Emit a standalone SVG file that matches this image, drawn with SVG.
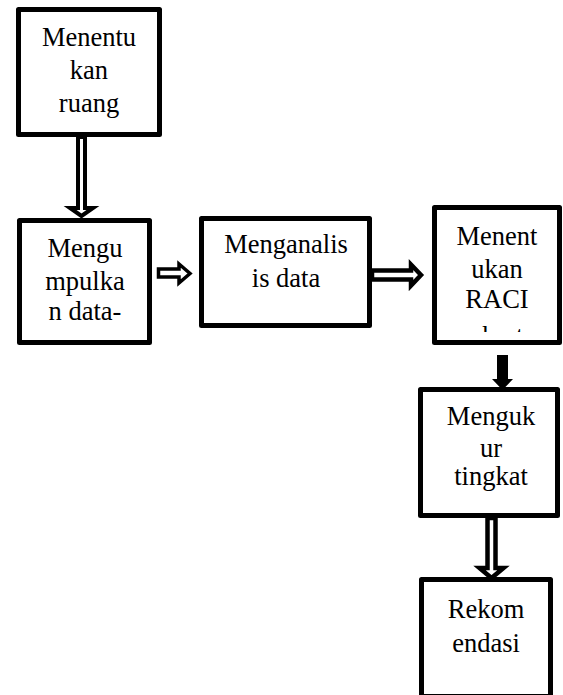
<svg xmlns="http://www.w3.org/2000/svg" width="563" height="695" viewBox="0 0 563 695">
<style>
.box{fill:#fff;stroke:#000;stroke-width:5;stroke-linejoin:round}
.lbl{font-family:"Liberation Serif","Times New Roman",serif;font-size:26.5px;fill:#000;text-anchor:middle}
.dbl{fill:#fff;stroke:#000;stroke-width:4;stroke-linejoin:miter}
.solid{fill:#000;stroke:none}
</style>
<defs>
<clipPath id="clip4"><rect x="437" y="210" width="120" height="122"/></clipPath>
</defs>
<rect width="563" height="695" fill="#fff"/>
<g id="connectors">
<polygon class="dbl" points="78,137 78,208 70,208 81.5,216 93,208 85,208 85,137"/>
<polygon class="dbl" style="stroke-width:3.5" points="158.5,269 179,269 179,264 190,273.5 179,283 179,277 158.5,277"/>
<polygon class="dbl" style="stroke-width:4.5" points="372,270.5 411,270.5 411,264.5 421,275 411,285.5 411,279.5 372,279.5"/>
<polygon class="solid" points="497,355 508,355 508,379 513,379 502.5,390 492,379 497,379"/>
<polygon class="dbl" style="stroke-width:4.5" points="487.5,518 487.5,568 479.5,568 491.5,578 503.5,568 495.5,568 495.5,518"/>
</g>
<g id="n1">
<rect class="box" x="18.5" y="9.5" width="141" height="125"/>
<text class="lbl" x="89" y="46">Menentu</text>
<text class="lbl" x="89" y="79">kan</text>
<text class="lbl" x="89" y="112">ruang</text>
</g>
<g id="n2">
<rect class="box" x="19.5" y="220.5" width="130" height="122"/>
<text class="lbl" x="85" y="257">Mengu</text>
<text class="lbl" x="85" y="290">mpulka</text>
<text class="lbl" x="85" y="320">n data-</text>
</g>
<g id="n3">
<rect class="box" x="201.5" y="218.5" width="168" height="107"/>
<text class="lbl" x="286" y="253">Menganalis</text>
<text class="lbl" x="286" y="287">is data</text>
</g>
<g id="n4">
<rect class="box" x="434.5" y="207.5" width="125" height="135"/>
<text class="lbl" x="497" y="245">Menent</text>
<text class="lbl" x="497" y="278">ukan</text>
<text class="lbl" x="497" y="308">RACI</text>
<text class="lbl" x="497" y="345" clip-path="url(#clip4)">chart</text>
</g>
<g id="n5">
<rect class="box" x="420.5" y="389.5" width="137" height="126"/>
<text class="lbl" x="491" y="425">Menguk</text>
<text class="lbl" x="491" y="457">ur</text>
<text class="lbl" x="491" y="485">tingkat</text>
</g>
<g id="n6">
<rect class="box" x="421.5" y="579.5" width="129" height="117"/>
<text class="lbl" x="486" y="618">Rekom</text>
<text class="lbl" x="486" y="652">endasi</text>
</g>
</svg>
